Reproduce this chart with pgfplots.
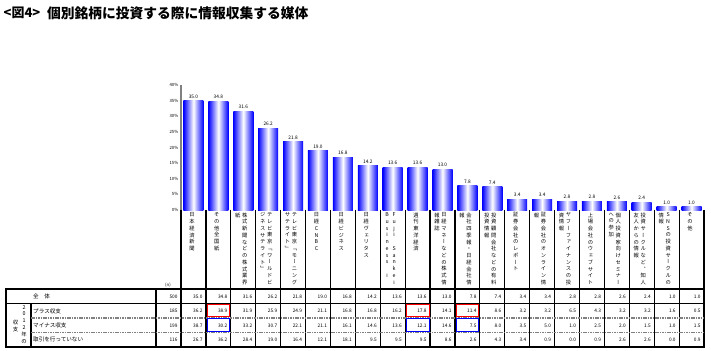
\documentclass[border=0pt]{standalone}
\usepackage{fontspec}
\setmainfont{Noto Sans CJK JP}
\newfontfamily\vjp{Noto Sans CJK JP}[RawFeature=+vert]
\usepackage{pgfplots}
\usepackage{pgfplotstable}
\pgfplotsset{compat=1.18}
\pgfkeys{/pgf/number format/assume math mode=true}

\newcommand\fs[1]{\fontsize{#1}{#1}\selectfont}
\def\vtA#1{\ifx\relax#1\else\hbox to 6bp{\hss#1\hss}\expandafter\vtA\fi}
\newcommand\vt[2]{\vbox{\baselineskip=#1\lineskiplimit=-20bp\lineskip=0pt\vtA#2\relax}}
\newcommand\lab[3]{\node[anchor=north, inner sep=0pt, font={\vjp\fs{5.3}}] at ({181+24.905*(#1-0.5)+#2},212.5) {\vt{6.75bp}{#3}};}

\pgfplotstableread{
x all plus minus none
1 35.0 36.2 38.7 26.7
2 34.8 38.9 30.2 36.2
3 31.6 31.9 33.2 28.4
4 26.2 25.9 30.7 19.0
5 21.8 24.9 22.1 16.4
6 19.0 21.1 21.1 12.1
7 16.8 16.8 16.1 18.1
8 14.2 16.8 14.6 9.5
9 13.6 16.2 13.6 9.5
10 13.6 17.8 12.1 9.5
11 13.0 14.1 14.6 8.6
12 7.8 11.4 7.5 2.6
13 7.4 8.6 8.0 4.3
14 3.4 3.2 3.5 3.4
15 3.4 3.2 5.0 0.9
16 2.8 6.5 1.0 0.0
17 2.8 4.3 2.5 0.9
18 2.6 3.2 2.0 2.6
19 2.4 3.2 1.5 2.6
20 1.0 1.6 1.0 0.0
21 1.0 0.5 1.5 0.9
}\datatable

\pgfplotstableread{
x y n
0 52.6 500
0 38.3 185
0 23.6 199
0 9.3 116
}\ntable

\begin{document}
\begin{tikzpicture}
\useasboundingbox (0,0) rectangle (711bp,-351bp);
% ---------------- bars
\begin{axis}[
  at={(181bp,-210bp)}, anchor=south west,
  scale only axis, width=523bp, height=125bp,
  xmin=0.5, xmax=21.5, ymin=0, ymax=40,
  axis x line=none, axis y line*=left,
  y axis line style={-, draw=gray, line width=1.8bp},
  xtick=\empty,
  ytick={0,5,...,40},
  yticklabel={\pgfmathprintnumber{\tick}\%},
  yticklabel style={font=\fs{4.3}, inner sep=1bp},
  tick align=outside, major tick length=1.5bp,
  ytick style={draw=gray, line width=0.5bp},
  clip=false,
]
\pgfplotsinvokeforeach{1,...,21}{
\addplot[ybar, bar width=20bp, bar shift=0pt, draw=none,
  left color=blue, right color=blue, middle color=white,
  restrict x to domain=#1:#1,
  nodes near coords={\pgfmathprintnumber[fixed,fixed zerofill,precision=1]{\pgfplotspointmeta}},
  nodes near coords style={font=\fs{4.8}, inner sep=1.5bp, text=black, yshift=0.8bp}]
  table[x=x, y=all]{\datatable};
}
\end{axis}
% ---------------- table values
\begin{axis}[
  at={(181bp,-351bp)}, anchor=south west,
  scale only axis, width=523bp, height=351bp,
  xmin=0.5, xmax=21.5, ymin=0, ymax=351,
  hide axis, clip=false,
  point meta=explicit,
  nodes near coords={\pgfmathprintnumber[fixed,fixed zerofill,precision=1]{\pgfplotspointmeta}},
  nodes near coords style={anchor=south, inner sep=0pt, text width=20bp, align=right, xshift=-1bp, font=\fs{4.8}, text=black},
]
\addplot[draw=none, mark=none] table[x=x, y expr=52.6, meta=all]{\datatable};
\addplot[draw=none, mark=none] table[x=x, y expr=38.3, meta=plus]{\datatable};
\addplot[draw=none, mark=none] table[x=x, y expr=23.6, meta=minus]{\datatable};
\addplot[draw=none, mark=none] table[x=x, y expr=9.3, meta=none]{\datatable};
\addplot[draw=none, mark=none,
  nodes near coords={\pgfmathprintnumber[fixed,precision=0]{\pgfplotspointmeta}}]
  table[x=x, y=y, meta=n]{\ntable};
\end{axis}
% ---------------- frame, labels
\begin{scope}[x=1bp,y=-1bp]
\foreach \i in {0,...,21} \draw[line width=1.2bp] ({181+24.905*\i},209.8) -- ({181+24.905*\i},346.5);
\draw[line width=1.2bp] (156,289) -- (156,346.5);
\draw[line width=1.2bp] (31,303.5) -- (31,346.5);
\draw[line width=1.5bp] (6,289) -- (6,346.5);
\draw[line width=1.5bp] (5.3,289) -- (704.6,289);
\draw[line width=0.9bp] (6,303.5) -- (704,303.5);
\draw[gray, line width=1.6bp, dash pattern=on 1.6bp off 0.8bp] (31,318) -- (704,318);
\draw[gray, line width=1.6bp, dash pattern=on 1.6bp off 0.8bp] (31,332.3) -- (704,332.3);
\draw[line width=2bp] (5,346.5) -- (705,346.5);
\foreach \c in {2,10,12} {
  \draw[red, line width=1bp] ({181+24.905*(\c-1)+1.5},304.3) rectangle ({181+24.905*\c-1},316.7);
  \draw[blue, line width=1bp] ({181+24.905*(\c-1)+1.5},318.9) rectangle ({181+24.905*\c-1},331.5);
}
% table row labels
\node[anchor=west, inner sep=0pt, font=\fs{5.6}] at (33,296.7) {全　体};
\node[anchor=west, inner sep=0pt, font=\fs{5.6}] at (33,311) {プラス収支};
\node[anchor=west, inner sep=0pt, font=\fs{5.6}] at (33,325.6) {マイナス収支};
\node[anchor=west, inner sep=0pt, font=\fs{5.6}] at (33,339.8) {取引を行っていない};
\node[anchor=north, inner sep=0pt, font=\fs{5.4}] at (24,305) {\vt{6.8bp}{2012年の}};
\node[anchor=north, inner sep=0pt, font=\fs{5.4}] at (15.5,320) {\vt{7bp}{収支}};
\node[inner sep=0pt, font=\fs{4.3}] at (168,285.5) {(n)};
% category labels (vertical writing)
\lab{1}{-1.5}{日本経済新聞}
\lab{2}{-1.5}{その他全国紙}
\lab{3}{1.5}{株式新聞などの株式業界}
\lab{3}{-5.5}{紙}
\lab{4}{1.5}{テレビ東京「ワールドビ}
\lab{4}{-5.5}{ジネスサテライト」}
\lab{5}{1.5}{テレビ東京「モーニング}
\lab{5}{-5.5}{サテライト」}
\lab{6}{-1.5}{日経CNBC}
\lab{7}{-1.5}{日経ビジネス}
\lab{8}{-1.5}{日経ヴェリタス}
\lab{9}{1.5}{Fuji~Sankei}
\lab{9}{-5.5}{Business~i}
\lab{10}{-1.5}{週刊東洋経済}
\lab{11}{1.5}{日経マネーなどの株式情}
\lab{11}{-5.5}{報雑誌}
\lab{12}{1.5}{会社四季報・日経会社情}
\lab{12}{-5.5}{報}
\lab{13}{1.5}{投資顧問会社などの有料}
\lab{13}{-5.5}{投資情報}
\lab{14}{-1.5}{証券会社のレポート}
\lab{15}{1.5}{証券会社のオンライン情}
\lab{15}{-5.5}{報}
\lab{16}{1.5}{ヤフーファイナンスの投}
\lab{16}{-5.5}{資情報}
\lab{17}{-1.5}{上場会社のウェブサイト}
\lab{18}{1.5}{個人投資家向けセミナー}
\lab{18}{-5.5}{への参加}
\lab{19}{1.5}{投資サークルなど、知人}
\lab{19}{-5.5}{友人からの情報}
\lab{20}{1.5}{SNSの投資サークルの}
\lab{20}{-5.5}{情報}
\lab{21}{-1.5}{その他}
% title
\node[anchor=west, inner sep=0pt, font=\bfseries\fs{13}] at (3.5,13) {<図4>};
\node[anchor=west, inner sep=0pt, font=\bfseries\fs{13.8}] at (47,13) {個別銘柄に投資する際に情報収集する媒体};
\end{scope}
\end{tikzpicture}
\end{document}
